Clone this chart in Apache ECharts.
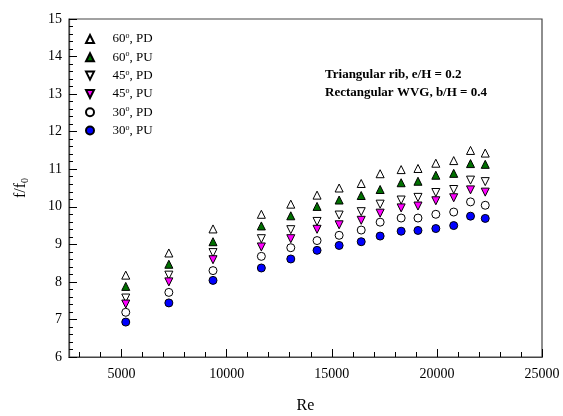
<!DOCTYPE html>
<html>
<head>
<meta charset="utf-8">
<script src="https://cdn.jsdelivr.net/npm/echarts@6/dist/echarts.min.js"></script>
<style>
  html, body { margin: 0; padding: 0; background: #fff; }
  #chart { width: 563px; height: 416px; }
</style>
</head>
<body>
<div id="chart"></div>
<script>
// Reynolds number of each test point
const re = [5200, 7250, 9350, 11650, 13050, 14300, 15350, 16400, 17300, 18300, 19100, 19950, 20800, 21600, 22300];

// f/f0 for each configuration
const pd60 = [8.18, 8.77, 9.41, 9.80, 10.07, 10.31, 10.50, 10.62, 10.88, 10.99, 11.02, 11.16, 11.23, 11.50, 11.43];
const pu60 = [7.88, 8.47, 9.07, 9.49, 9.76, 10.01, 10.18, 10.30, 10.46, 10.64, 10.68, 10.84, 10.89, 11.15, 11.13];
const pd45 = [7.57, 8.18, 8.78, 9.15, 9.39, 9.61, 9.78, 9.87, 10.07, 10.18, 10.25, 10.38, 10.46, 10.71, 10.67];
const pu45 = [7.41, 8.00, 8.59, 8.93, 9.15, 9.40, 9.52, 9.64, 9.83, 9.97, 10.02, 10.16, 10.24, 10.45, 10.39];
const pd30 = [7.19, 7.72, 8.30, 8.68, 8.91, 9.10, 9.24, 9.38, 9.59, 9.70, 9.70, 9.80, 9.86, 10.13, 10.04];
const pu30 = [6.93, 7.44, 8.04, 8.37, 8.61, 8.84, 8.97, 9.07, 9.22, 9.35, 9.37, 9.42, 9.50, 9.75, 9.69];

// tick labels
const xMajor = [5000, 10000, 15000, 20000, 25000];
const xMinor = [3000, 4000, 6000, 7000, 8000, 9000, 11000, 12000, 13000, 14000, 16000, 17000, 18000, 19000, 21000, 22000, 23000, 24000];

const FONT = 'Liberation Serif';
const DOWN = 'path://M0,0 L10,0 L5,10 Z';

const chart = echarts.init(document.getElementById('chart'), null, { renderer: 'canvas' });

function pts(vals) {
  return re.map((x, i) => [x, vals[i]]);
}

function makeSeries(name, vals, symbol, fill) {
  return {
    name: name,
    type: 'scatter',
    symbol: symbol,
    symbolSize: 8,
    itemStyle: { color: fill, borderColor: '#000', borderWidth: 1, opacity: 1 },
    data: pts(vals)
  };
}

const option = {
  animation: false,
  backgroundColor: '#fff',
  grid: {
    left: 69, right: 21, top: 19, bottom: 59,
    containLabel: false,
    outerBoundsMode: 'none',
    show: true,
    borderColor: '#444',
    borderWidth: 1.2,
    backgroundColor: 'transparent'
  },
  legend: {
    orient: 'vertical',
    left: 80,
    top: 27,
    itemWidth: 8,
    itemHeight: 8,
    itemGap: 4.3,
    selectedMode: false,
    data: ['60°, PD', '60°, PU', '45°, PD', '45°, PU', '30°, PD', '30°, PU'],
    formatter: function (name) {
      const parts = name.split('°');
      return parts[0] + '{sup|o}' + parts[1];
    },
    textStyle: {
      fontFamily: FONT,
      fontSize: 13,
      color: '#000',
      lineHeight: 14,
      padding: [0, 0, 0, 13.5],
      rich: {
        sup: { fontFamily: FONT, fontSize: 8, verticalAlign: 'top', lineHeight: 14, padding: [0, 0, 6, 0] }
      }
    }
  },
  xAxis: [{
    type: 'value',
    min: 2500,
    max: 25000,
    name: 'Re',
    nameLocation: 'middle',
    nameGap: 41,
    nameTextStyle: { fontFamily: FONT, fontSize: 16, color: '#000' },
    splitLine: { show: false },
    axisLine: { show: true, lineStyle: { color: '#444', width: 1.2 } },
    axisTick: { show: true, inside: true, length: 8, customValues: xMajor, lineStyle: { color: '#000' } },
    axisLabel: { customValues: xMajor, margin: 10, fontFamily: FONT, fontSize: 14, color: '#000', formatter: v => String(v) }
  }, {
    type: 'value',
    min: 2500,
    max: 25000,
    position: 'bottom',
    splitLine: { show: false },
    axisLine: { show: true, lineStyle: { color: '#444', width: 1.2 } },
    axisTick: { show: true, inside: true, length: 5, customValues: xMinor, lineStyle: { color: '#000' } },
    axisLabel: { show: false, customValues: xMinor }
  }],
  yAxis: {
    type: 'value',
    min: 6,
    max: 15,
    interval: 1,
    name: 'f/f{sub|0}',
    nameLocation: 'middle',
    nameRotate: 90,
    nameGap: 39,
    nameTextStyle: {
      fontFamily: FONT, fontSize: 16, color: '#000',
      rich: { sub: { fontFamily: FONT, fontSize: 10, verticalAlign: 'bottom', padding: [8, 0, 0, 0] } }
    },
    splitLine: { show: false },
    axisLine: { show: true, lineStyle: { color: '#444', width: 1.2 } },
    axisTick: { show: true, inside: true, length: 8, lineStyle: { color: '#000' } },
    minorTick: { show: true, splitNumber: 5, length: 4, lineStyle: { color: '#000' } },
    axisLabel: { margin: 7, fontFamily: FONT, fontSize: 14, color: '#000' }
  },
  graphic: [{
    type: 'text',
    right: 76,
    top: 66,
    style: {
      text: 'Triangular rib, e/H = 0.2\nRectangular WVG, b/H = 0.4',
      font: 'bold 13px ' + FONT,
      fill: '#000',
      align: 'right',
      lineHeight: 18
    }
  }],
  series: [
    makeSeries('60°, PD', pd60, 'triangle', '#fff'),
    makeSeries('60°, PU', pu60, 'triangle', '#007000'),
    makeSeries('45°, PD', pd45, DOWN, '#fff'),
    makeSeries('45°, PU', pu45, DOWN, '#ff00ff'),
    makeSeries('30°, PD', pd30, 'circle', '#fff'),
    makeSeries('30°, PU', pu30, 'circle', '#0000ff')
  ]
};

chart.setOption(option);
window.addEventListener('resize', () => chart.resize());
</script>
</body>
</html>
